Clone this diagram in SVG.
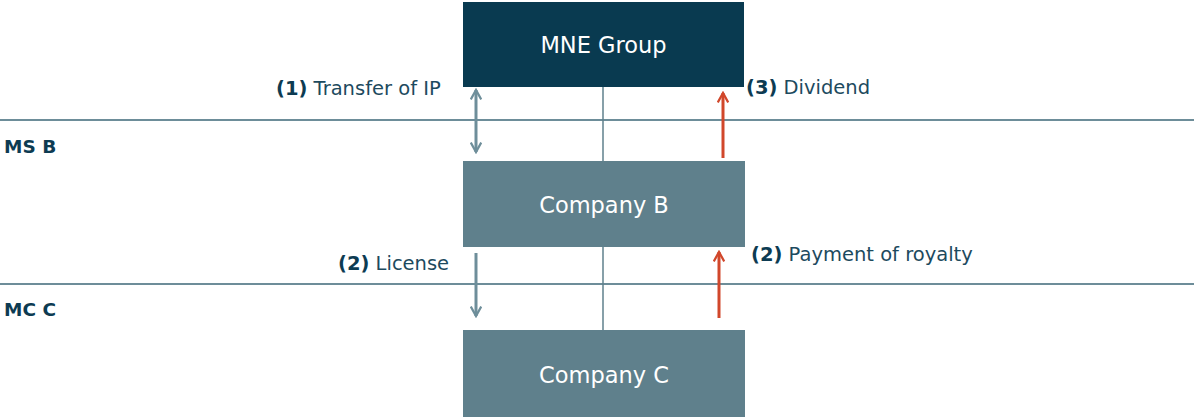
<svg xmlns="http://www.w3.org/2000/svg" width="1194" height="417" viewBox="0 0 1194 417">
<style>
text{font-family:"DejaVu Sans",Verdana,sans-serif}
.box-dark{fill:#093a50}
.box{fill:#5f808c}
.bt{fill:#ffffff;font-size:22.5px;text-anchor:middle}
.lbl{fill:#1d4a5e;font-size:19.5px}
.b{font-weight:bold;fill:#0d3b52}
.region{fill:#0d3b52;font-size:18.5px;font-weight:bold}
.sep{stroke:#6d8d99;stroke-width:2}
.vline{stroke:#5f808c;stroke-width:1.5}
.grey{stroke:#6e8e9a;stroke-width:3;fill:none}
.red{stroke:#d1472b;stroke-width:3;fill:none}
</style>
<defs>
<marker id="ag" viewBox="0 0 12 12" refX="10" refY="6" markerWidth="4.2" markerHeight="4.2" orient="auto-start-reverse" markerUnits="strokeWidth">
<path d="M1,1 L10,6 L1,11" fill="none" stroke="#6e8e9a" stroke-width="2.2"/>
</marker>
<marker id="ar" viewBox="0 0 12 12" refX="10" refY="6" markerWidth="4.2" markerHeight="4.2" orient="auto" markerUnits="strokeWidth">
<path d="M1,1 L10,6 L1,11" fill="none" stroke="#d1472b" stroke-width="2.2"/>
</marker>
</defs>
<g id="separators">
<line class="sep" x1="0" y1="120" x2="1194" y2="120"/>
<line class="sep" x1="0" y1="284" x2="1194" y2="284"/>
<text class="region" x="4" y="153">MS B</text>
<text class="region" x="4" y="316">MC C</text>
</g>
<g id="connectors">
<line class="vline" x1="603" y1="87" x2="603" y2="331"/>
<line class="grey" x1="476" y1="90" x2="476" y2="152" marker-start="url(#ag)" marker-end="url(#ag)"/>
<line class="grey" x1="476" y1="253" x2="476" y2="316" marker-end="url(#ag)"/>
<line class="red" x1="723" y1="158" x2="723" y2="93" marker-end="url(#ar)"/>
<line class="red" x1="719" y1="318" x2="719" y2="252" marker-end="url(#ar)"/>
<text class="lbl" x="276" y="95"><tspan class="b">(1)</tspan> Transfer of IP</text>
<text class="lbl" x="746" y="94"><tspan class="b">(3)</tspan> Dividend</text>
<text class="lbl" x="338" y="270"><tspan class="b">(2)</tspan> License</text>
<text class="lbl" x="751" y="261"><tspan class="b">(2)</tspan> Payment of royalty</text>
</g>
<g id="mne">
<rect class="box-dark" x="463" y="2" width="281" height="85"/>
<text class="bt" x="603.5" y="53">MNE Group</text>
</g>
<g id="company-b">
<rect class="box" x="463" y="161" width="282" height="86"/>
<text class="bt" x="604" y="213">Company B</text>
</g>
<g id="company-c">
<rect class="box" x="463" y="330" width="282" height="87"/>
<text class="bt" x="604" y="383">Company C</text>
</g>
</svg>
